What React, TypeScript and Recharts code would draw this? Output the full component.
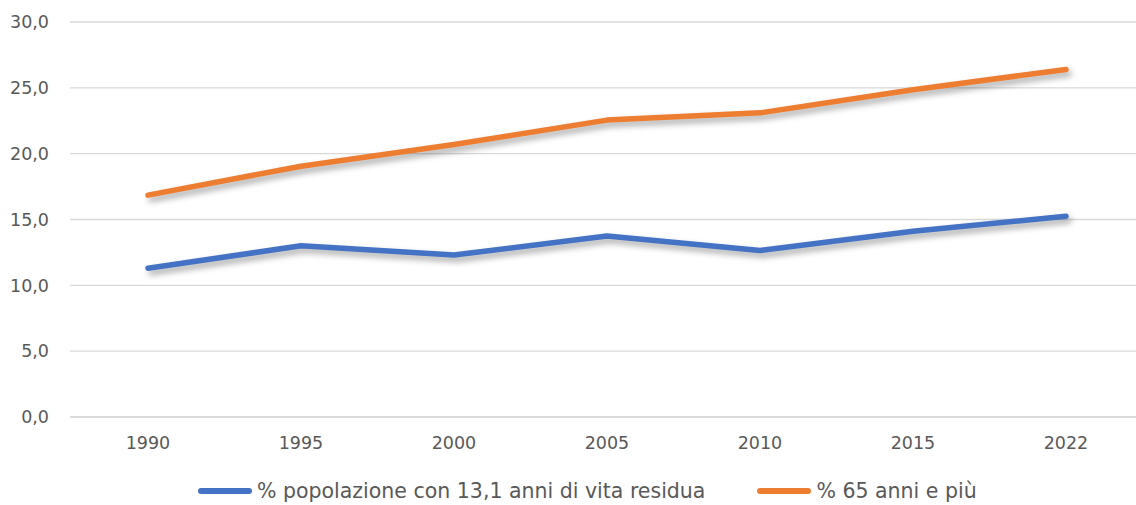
import React from "react";
import { LineChart, Line, XAxis, YAxis, CartesianGrid } from "recharts";

const years = ["1990", "1995", "2000", "2005", "2010", "2015", "2022"];
const residua = [11.3, 13.0, 12.3, 13.75, 12.65, 14.1, 15.25];
const over65 = [16.85, 19.05, 20.7, 22.55, 23.1, 24.85, 26.4];
const yTicks = [0, 5, 10, 15, 20, 25, 30];
const seriesNames = ["% popolazione con 13,1 anni di vita residua", "% 65 anni e più"];
const seriesColors = ["#4472C4", "#ED7D31"];

const data = years.map((y, i) => ({ year: y, a: residua[i], b: over65[i] }));

const FONT = "'DejaVu Sans', sans-serif";

export default function App() {
  return (
    <div style={{ position: "fixed", left: 0, top: 0, width: 1136, height: 505, overflow: "hidden", background: "#fff", fontFamily: FONT }}>
      <style>{`.recharts-line-curve { filter: drop-shadow(3px 4px 3px rgba(0,0,0,0.35)); }`}</style>
      <LineChart width={1143} height={505} data={data} margin={{ top: 22, right: 0, bottom: 58, left: 0 }}>
        <CartesianGrid vertical={false} stroke="#D9D9D9" strokeWidth={1.3} />
        <XAxis
          dataKey="year"
          padding={{ left: 78, right: 77 }}
          height={30}
          axisLine={{ stroke: "#D9D9D9", strokeWidth: 1.3 }}
          tickLine={false}
          tickMargin={14}
          tick={{ fill: "#595959", fontSize: 17.5, fontFamily: FONT }}
        />
        <YAxis
          domain={[0, 30]}
          ticks={yTicks}
          width={70}
          axisLine={false}
          tickLine={false}
          tickSize={0}
          tickMargin={21}
          tickFormatter={(v: number) => v.toFixed(1).replace(".", ",")}
          tick={{ fill: "#595959", fontSize: 17.5, fontFamily: FONT }}
        />
        <Line dataKey="a" name={seriesNames[0]} stroke={seriesColors[0]} strokeWidth={5.5} strokeLinecap="round" strokeLinejoin="round" dot={false} isAnimationActive={false} />
        <Line dataKey="b" name={seriesNames[1]} stroke={seriesColors[1]} strokeWidth={5.5} strokeLinecap="round" strokeLinejoin="round" dot={false} isAnimationActive={false} />
      </LineChart>
      <div style={{ position: "absolute", top: 479, left: 198, display: "flex", alignItems: "center", color: "#595959", fontSize: 20.5, whiteSpace: "nowrap" }}>
        {seriesNames.map((n, i) => (
          <div key={n} style={{ display: "flex", alignItems: "center", marginRight: 52 }}>
            <span style={{ display: "inline-block", width: 54, height: 6, borderRadius: 3, background: seriesColors[i], marginRight: 5 }} />
            <span>{n}</span>
          </div>
        ))}
      </div>
    </div>
  );
}
